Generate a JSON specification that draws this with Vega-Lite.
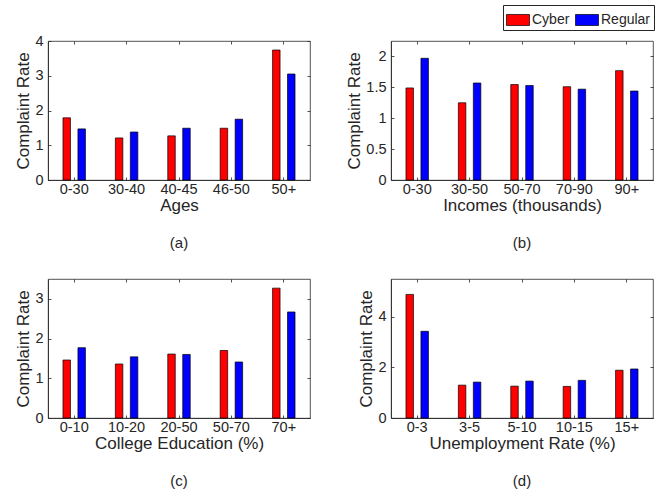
{
  "$schema": "https://vega.github.io/schema/vega-lite/v6.json",
  "background": "white",
  "padding": {"left": 14, "top": 4, "right": 10, "bottom": 5},
  "config": {
    "font": "Liberation Sans",
    "view": {"stroke": "#262626", "strokeWidth": 0.8},
    "axis": {
      "grid": true,
      "gridColor": "#262626",
      "gridWidth": 0.8,
      "gridOpacity": 1,
      "ticks": false,
      "labelFont": "Liberation Sans",
      "titleFont": "Liberation Sans",
      "labelFontSize": 14.5,
      "titleFontSize": 17,
      "titleFontWeight": "normal",
      "labelColor": "#262626",
      "titleColor": "#262626",
      "domainColor": "#262626",
      "domainWidth": 0.8,
      "labelPadding": 5,
      "titlePadding": 2
    },
    "axisX": {"labelAngle": 0, "gridDash": [3, 133, 3, 0], "tickBand": "center", "labelPadding": 2},
    "axisY": {"gridDash": [3, 256, 3, 0], "labelPadding": 5},
    "title": {"orient": "bottom", "fontSize": 15, "fontWeight": "normal", "color": "#262626", "font": "Liberation Sans", "offset": 22}
  },
  "data": {"values": [
    {"panel": "a", "cat": "0-30", "type": "Cyber", "value": 1.79},
    {"panel": "a", "cat": "0-30", "type": "Regular", "value": 1.47},
    {"panel": "a", "cat": "30-40", "type": "Cyber", "value": 1.21},
    {"panel": "a", "cat": "30-40", "type": "Regular", "value": 1.38},
    {"panel": "a", "cat": "40-45", "type": "Cyber", "value": 1.27},
    {"panel": "a", "cat": "40-45", "type": "Regular", "value": 1.49},
    {"panel": "a", "cat": "46-50", "type": "Cyber", "value": 1.49},
    {"panel": "a", "cat": "46-50", "type": "Regular", "value": 1.75},
    {"panel": "a", "cat": "50+", "type": "Cyber", "value": 3.74},
    {"panel": "a", "cat": "50+", "type": "Regular", "value": 3.05},
    {"panel": "b", "cat": "0-30", "type": "Cyber", "value": 1.49},
    {"panel": "b", "cat": "0-30", "type": "Regular", "value": 1.97},
    {"panel": "b", "cat": "30-50", "type": "Cyber", "value": 1.25},
    {"panel": "b", "cat": "30-50", "type": "Regular", "value": 1.57},
    {"panel": "b", "cat": "50-70", "type": "Cyber", "value": 1.545},
    {"panel": "b", "cat": "50-70", "type": "Regular", "value": 1.53},
    {"panel": "b", "cat": "70-90", "type": "Cyber", "value": 1.51},
    {"panel": "b", "cat": "70-90", "type": "Regular", "value": 1.47},
    {"panel": "b", "cat": "90+", "type": "Cyber", "value": 1.77},
    {"panel": "b", "cat": "90+", "type": "Regular", "value": 1.44},
    {"panel": "c", "cat": "0-10", "type": "Cyber", "value": 1.46},
    {"panel": "c", "cat": "0-10", "type": "Regular", "value": 1.77},
    {"panel": "c", "cat": "10-20", "type": "Cyber", "value": 1.36},
    {"panel": "c", "cat": "10-20", "type": "Regular", "value": 1.54},
    {"panel": "c", "cat": "20-50", "type": "Cyber", "value": 1.61},
    {"panel": "c", "cat": "20-50", "type": "Regular", "value": 1.6},
    {"panel": "c", "cat": "50-70", "type": "Cyber", "value": 1.7},
    {"panel": "c", "cat": "50-70", "type": "Regular", "value": 1.41},
    {"panel": "c", "cat": "70+", "type": "Cyber", "value": 3.27},
    {"panel": "c", "cat": "70+", "type": "Regular", "value": 2.67},
    {"panel": "d", "cat": "0-3", "type": "Cyber", "value": 4.89},
    {"panel": "d", "cat": "0-3", "type": "Regular", "value": 3.43},
    {"panel": "d", "cat": "3-5", "type": "Cyber", "value": 1.3},
    {"panel": "d", "cat": "3-5", "type": "Regular", "value": 1.42},
    {"panel": "d", "cat": "5-10", "type": "Cyber", "value": 1.26},
    {"panel": "d", "cat": "5-10", "type": "Regular", "value": 1.46},
    {"panel": "d", "cat": "10-15", "type": "Cyber", "value": 1.25},
    {"panel": "d", "cat": "10-15", "type": "Regular", "value": 1.49},
    {"panel": "d", "cat": "15+", "type": "Cyber", "value": 1.89},
    {"panel": "d", "cat": "15+", "type": "Regular", "value": 1.94}
  ]},
  "columns": 2,
  "bounds": "flush",
  "spacing": {"row": 99, "column": 81},
  "resolve": {"scale": {"x": "independent", "y": "independent", "xOffset": "independent"}, "legend": {"color": "independent"}},
  "concat": [
    {
      "width": 262, "height": 139,
      "title": "(a)",
      "transform": [{"filter": "datum.panel === 'a'"}],
      "mark": {"type": "bar", "stroke": "#000", "strokeWidth": 0.7},
      "encoding": {
        "x": {"field": "cat", "type": "nominal", "sort": null, "scale": {"paddingInner": 0, "paddingOuter": 0}, "axis": {"title": "Ages"}},
        "xOffset": {"field": "type", "type": "nominal", "scale": {"paddingInner": 0.5, "paddingOuter": 1}},
        "y": {"field": "value", "type": "quantitative", "scale": {"domain": [0, 4], "nice": false}, "axis": {"values": [0, 1, 2, 3, 4], "format": "~g", "title": "Complaint Rate"}},
        "color": {"field": "type", "type": "nominal", "scale": {"domain": ["Cyber", "Regular"], "range": ["#ff0000", "#0000ff"]}, "legend": null}
      }
    },
    {
      "width": 262, "height": 139,
      "title": "(b)",
      "transform": [{"filter": "datum.panel === 'b'"}],
      "mark": {"type": "bar", "stroke": "#000", "strokeWidth": 0.7},
      "encoding": {
        "x": {"field": "cat", "type": "nominal", "sort": null, "scale": {"paddingInner": 0, "paddingOuter": 0}, "axis": {"title": "Incomes (thousands)"}},
        "xOffset": {"field": "type", "type": "nominal", "scale": {"paddingInner": 0.5, "paddingOuter": 1}},
        "y": {"field": "value", "type": "quantitative", "scale": {"domain": [0, 2.25], "nice": false}, "axis": {"values": [0, 0.5, 1, 1.5, 2], "format": "~g", "title": "Complaint Rate"}},
        "color": {"field": "type", "type": "nominal", "scale": {"domain": ["Cyber", "Regular"], "range": ["#ff0000", "#0000ff"]},
          "legend": {"orient": "none", "legendX": 112, "legendY": -36, "direction": "horizontal", "title": null,
            "symbolType": "M-1,-0.48H1V0.48H-1Z", "symbolSize": 529, "symbolStrokeColor": "#000", "symbolStrokeWidth": 0.7, "symbolOpacity": 1,
            "labelFontSize": 14, "labelColor": "#262626", "labelFont": "Liberation Sans", "labelOffset": 2, "columnPadding": 4, "padding": 3,
            "strokeColor": "#262626", "fillColor": "white"}}
      }
    },
    {
      "width": 262, "height": 139,
      "title": "(c)",
      "transform": [{"filter": "datum.panel === 'c'"}],
      "mark": {"type": "bar", "stroke": "#000", "strokeWidth": 0.7},
      "encoding": {
        "x": {"field": "cat", "type": "nominal", "sort": null, "scale": {"paddingInner": 0, "paddingOuter": 0}, "axis": {"title": "College Education (%)"}},
        "xOffset": {"field": "type", "type": "nominal", "scale": {"paddingInner": 0.5, "paddingOuter": 1}},
        "y": {"field": "value", "type": "quantitative", "scale": {"domain": [0, 3.5], "nice": false}, "axis": {"values": [0, 1, 2, 3], "format": "~g", "title": "Complaint Rate"}},
        "color": {"field": "type", "type": "nominal", "scale": {"domain": ["Cyber", "Regular"], "range": ["#ff0000", "#0000ff"]}, "legend": null}
      }
    },
    {
      "width": 262, "height": 139,
      "title": "(d)",
      "transform": [{"filter": "datum.panel === 'd'"}],
      "mark": {"type": "bar", "stroke": "#000", "strokeWidth": 0.7},
      "encoding": {
        "x": {"field": "cat", "type": "nominal", "sort": null, "scale": {"paddingInner": 0, "paddingOuter": 0}, "axis": {"title": "Unemployment Rate (%)"}},
        "xOffset": {"field": "type", "type": "nominal", "scale": {"paddingInner": 0.5, "paddingOuter": 1}},
        "y": {"field": "value", "type": "quantitative", "scale": {"domain": [0, 5.5], "nice": false}, "axis": {"values": [0, 2, 4], "format": "~g", "title": "Complaint Rate"}},
        "color": {"field": "type", "type": "nominal", "scale": {"domain": ["Cyber", "Regular"], "range": ["#ff0000", "#0000ff"]}, "legend": null}
      }
    }
  ]
}
